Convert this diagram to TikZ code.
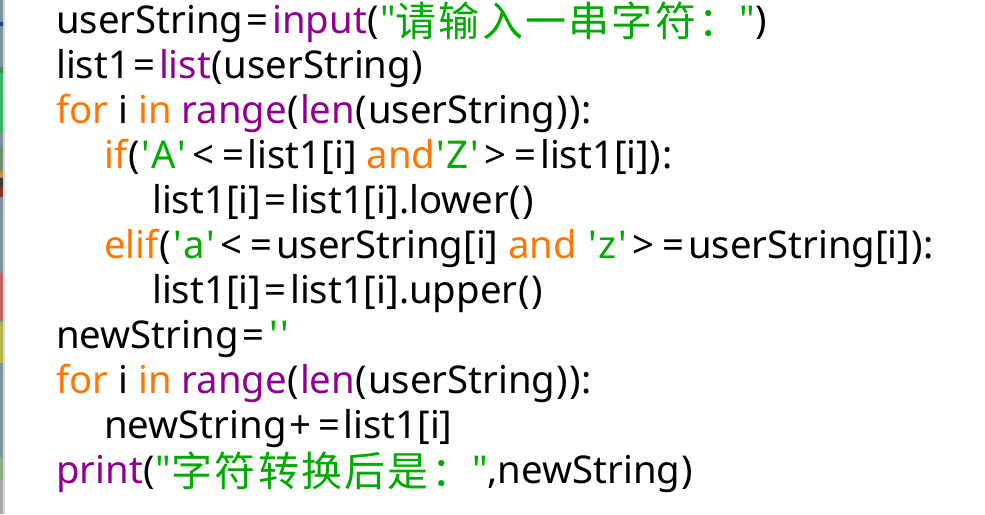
\documentclass[tikz,border=0pt]{standalone}
\usepackage{fontspec}
\newfontfamily\lat{Noto Sans}[Ligatures=TeXOff]
\newfontfamily\cjk{Noto Sans CJK SC}[Ligatures=TeXOff,LetterSpace=5.5]
\definecolor{kw}{RGB}{255,119,0}
\definecolor{bi}{RGB}{144,0,144}
\definecolor{st}{RGB}{0,170,0}
\definecolor{stripbase}{RGB}{122,145,160}
\definecolor{sa}{RGB}{40,60,140}
\definecolor{sb}{RGB}{70,140,90}
\definecolor{sc}{RGB}{60,180,100}
\definecolor{sd}{RGB}{110,140,110}
\definecolor{se}{RGB}{220,130,40}
\definecolor{sf}{RGB}{60,60,60}
\definecolor{sg}{RGB}{130,50,40}
\definecolor{sh}{RGB}{190,100,100}
\definecolor{si}{RGB}{180,180,70}
\definecolor{sj}{RGB}{140,170,130}
\definecolor{sk}{RGB}{170,170,170}
\definecolor{sl}{RGB}{215,215,215}
\newcommand{\K}[1]{\textcolor{kw}{#1}}
\newcommand{\B}[1]{\textcolor{bi}{#1}}
\newcommand{\Sg}[1]{\textcolor{st}{#1}}
\newcommand{\Cj}[1]{\raisebox{-3.5pt}{\cjk\fontsize{41}{41}\selectfont #1}}
\newcommand{\oEQ}{\makebox[29pt][c]{=}}
\newcommand{\oLT}{\makebox[31pt][c]{<}}
\newcommand{\oGT}{\makebox[31pt][c]{>}}
\newcommand{\oPL}{\makebox[28pt][c]{+}}
\newcommand{\oLP}{\makebox[13pt][c]{(}}
\newcommand{\oRP}{\makebox[13pt][c]{)}}
\newcommand{\oQ}{\makebox[11.5pt][c]{'}}
\begin{document}
\begin{tikzpicture}[x=1pt,y=-1pt,
  codeline/.style={anchor=base west,inner sep=0pt,font=\lat\fontsize{38.3}{38.3}\selectfont}]
\useasboundingbox (0,0) rectangle (985,514);
\fill[white] (0,0) rectangle (985,514);
% left strip
\fill[stripbase] (0,0) rectangle (3,514);
\fill[sa] (0,22) rectangle (3,26);
\fill[sb] (0,67) rectangle (3,73);
\fill[sc] (0,73) rectangle (3,132);
\fill[sd] (0,147) rectangle (3,171);
\fill[se] (0,172) rectangle (3,177);
\fill[sf] (0,178) rectangle (3,187);
\fill[sg] (0,187) rectangle (3,197);
\fill[sh] (0,273) rectangle (3,320);
\fill[si] (0,322) rectangle (3,363);
\fill[sj] (0,457) rectangle (3,480);
\fill[sk] (0,480) rectangle (3,514);
\fill[sl] (3,0) rectangle (4.5,514);
% code
\node[codeline] (l1) at (56,33) {userString\oEQ\B{input}\oLP\Sg{"\Cj{请输入一串字符：}"}\oRP};
\node[codeline] (l2) at (56,78) {list1\oEQ\B{list}\oLP userString\oRP};
\node[codeline] (l3) at (56,123) {\K{for} i \K{in} \B{range}\oLP\B{len}\oLP userString\oRP\oRP:};
\node[codeline] (l4) at (104,168) {\K{if}\oLP\Sg{\oQ A\oQ}\oLT\oEQ list1[i] \K{and}\Sg{\oQ Z\oQ}\oGT\oEQ list1[i]\oRP:};
\node[codeline] (l5) at (152,213) {list1[i]\oEQ list1[i].lower\oLP\oRP};
\node[codeline] (l6) at (104,258) {\K{elif}\oLP\Sg{\oQ a\oQ}\oLT\oEQ userString[i] \K{and} \Sg{\oQ z\oQ}\oGT\oEQ userString[i]\oRP:};
\node[codeline] (l7) at (152,303) {list1[i]\oEQ list1[i].upper\oLP\oRP};
\node[codeline] (l8) at (56,348) {newString\oEQ\Sg{\oQ\oQ}};
\node[codeline] (l9) at (56,393) {\K{for} i \K{in} \B{range}\oLP\B{len}\oLP userString\oRP\oRP:};
\node[codeline] (l10) at (104,438) {newString\oPL\oEQ list1[i]};
\node[codeline] (l11) at (56,483) {\B{print}\oLP\Sg{"\Cj{字符转换后是：}"},newString\oRP};
\end{tikzpicture}
\end{document}
